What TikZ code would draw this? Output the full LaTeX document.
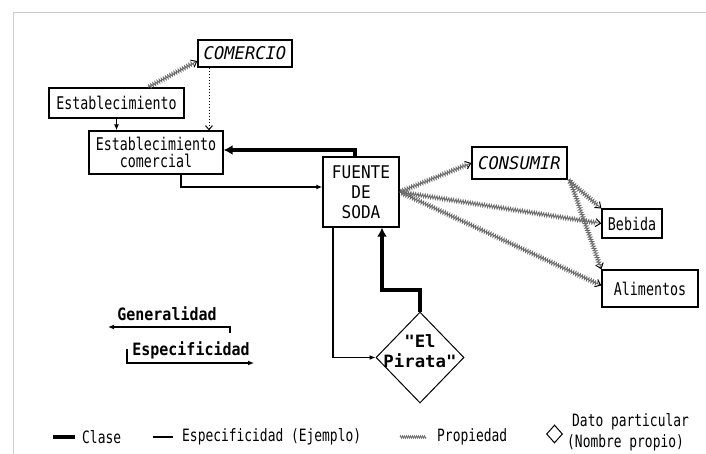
\documentclass[tikz,border=0pt]{standalone}
\usepackage{fontspec}
\usetikzlibrary{shapes.geometric,arrows.meta,decorations.pathmorphing}
\newfontfamily\mfont[FakeStretch=0.76]{DejaVu Sans Mono}
\newfontfamily\mbold[FakeStretch=0.88]{DejaVu Sans Mono}
\newfontfamily\mital[FakeStretch=0.98]{DejaVu Sans Mono}
\newfontfamily\mwide[FakeStretch=0.92]{DejaVu Sans Mono}
\newfontfamily\mpir[FakeStretch=1.02]{DejaVu Sans Mono}
\tikzset{
  boxnode/.style={draw, line width=1.3pt, inner sep=0pt, align=center,
    font=\mfont\fontsize{17.5}{17}\selectfont},
  spec/.style={line width=1.2pt, -{Latex[length=6pt,width=5pt]}},
  clase/.style={line width=4pt, -{Latex[length=9pt,width=10pt]}},
  prop/.style={draw=gray!85!black, line width=0.9pt, decorate,
    decoration={zigzag, amplitude=1.8pt, segment length=2.4pt, pre length=1pt, post length=4pt},
    -{Straight Barb[length=5pt,width=8pt,color=black,line width=1pt]}},
  dots/.style={line width=1pt, dotted, -{Straight Barb[length=4pt,width=7pt]}},
  txt/.style={inner sep=0pt, font=\mfont\fontsize{17}{17}\selectfont},
}
\begin{document}
\begin{tikzpicture}[x=1pt,y=-1pt]
\useasboundingbox (0,0) rectangle (706,454);
\draw[gray!40, line width=1.5pt] (706,12.5) -- (13.5,12.5) -- (13.5,454);

% nodes
\node[boxnode, minimum width=94pt, minimum height=27pt, font=\mital\itshape\fontsize{17.5}{17}\selectfont] (comercio) at (245,53.5) {COMERCIO};
\node[boxnode, minimum width=135pt, minimum height=30pt] (estab) at (116.5,103) {Establecimiento};
\node[boxnode, minimum width=134pt, minimum height=43pt] (estcom) at (156,152.5) {Establecimiento\\comercial};
\node[boxnode, minimum width=76pt, minimum height=70pt, font=\mwide\fontsize{17.5}{20}\selectfont] (fuente) at (361,192) {FUENTE\\DE\\SODA};
\node[boxnode, minimum width=95pt, minimum height=32pt, font=\mital\itshape\fontsize{17.5}{17}\selectfont] (consumir) at (519.5,163) {CONSUMIR};
\node[boxnode, minimum width=60pt, minimum height=29pt] (bebida) at (632,223.5) {Bebida};
\node[boxnode, minimum width=96pt, minimum height=37pt] (alimentos) at (650,288.5) {Alimentos};
\node[draw, diamond, line width=1pt, inner sep=0pt, minimum width=88pt, minimum height=91pt] (pirata) at (420,357.5) {};
\node[txt, align=center, font=\mpir\bfseries\fontsize{17}{20}\selectfont] (piratatxt) at (420,351) {"El\\Pirata"};

% connectors
\draw[prop] ([xshift=31.5pt]estab.north) -- ([yshift=-7.5pt]comercio.west);
\draw[dots] ([xshift=-36pt]comercio.south) -- ([xshift=-36pt]comercio.south |- estcom.north);
\draw[spec] (estab.south) -- (estab.south |- estcom.north);
\draw[spec] ([xshift=25pt]estcom.south) |- ([yshift=5pt]fuente.west);
\draw[clase] ([xshift=-6pt]fuente.north) |- ([yshift=2.5pt]estcom.east);
\draw[prop] (fuente.east) -- (consumir.west);
\draw[prop] (fuente.east) -- (bebida.west);
\draw[prop] (fuente.east) -- ([yshift=3pt]alimentos.west);
\draw[prop] (consumir.south east) -- (bebida.north west);
\draw[prop] ([xshift=2pt]consumir.south east) -- (alimentos.north west);
\draw[spec] ([xshift=-28pt]fuente.south) |- (pirata.west);
\draw[clase] (pirata.north) -- ++(0,-22) -| ([xshift=21pt]fuente.south);

% legend left
\node[txt, font=\mbold\bfseries\fontsize{17}{17}\selectfont] (gen) at (167,314) {Generalidad};
\coordinate (g1) at (230,333);
\coordinate (g2) at (108,327);
\draw[spec] (g1) |- (g2);
\node[txt, font=\mbold\bfseries\fontsize{17}{17}\selectfont] (esp) at (191,350) {Especificidad};
\coordinate (e1) at (127,349);
\coordinate (e2) at (254,363);
\draw[spec] (e1) |- (e2);

% legend bottom
\coordinate (l1a) at (53,437); \coordinate (l1b) at (75,437);
\draw[line width=4pt] (l1a) -- (l1b);
\node[txt, anchor=west] (lclase) at (82,437) {Clase};
\coordinate (l2a) at (153,437); \coordinate (l2b) at (173,437);
\draw[line width=1.2pt] (l2a) -- (l2b);
\node[txt, anchor=west] (lesp) at (182,437) {Especificidad (Ejemplo)};
\coordinate (l3a) at (400,437); \coordinate (l3b) at (426,437);
\draw[draw=gray!85!black, line width=0.8pt, decorate, decoration={zigzag, amplitude=1.2pt, segment length=2pt}] (l3a) -- (l3b);
\node[txt, anchor=west] (lprop) at (437,437) {Propiedad};
\node[draw, diamond, line width=1pt, inner sep=0pt, minimum width=16pt, minimum height=18pt] (ldia) at (554.5,434) {};
\node[txt, anchor=west] (ldato) at (572,422) {Dato particular};
\node[txt, anchor=west] (lnom) at (567,443) {(Nombre propio)};
\end{tikzpicture}
\end{document}
